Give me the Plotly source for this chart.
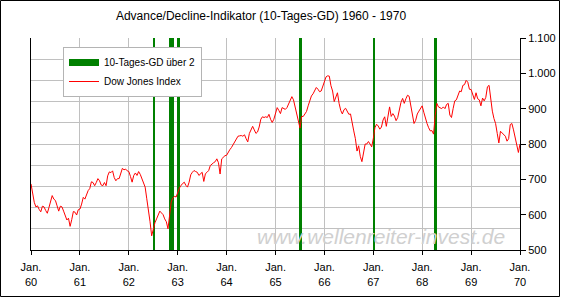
import pandas as pd
import plotly.graph_objects as go

# ---------------- data ----------------
dow_1960 = [687, 660, 635, 622, 625, 615, 608, 624, 622, 612, 604, 620, 640, 654, 644,
            640, 625, 610, 624, 622, 610, 600, 585, 590, 567, 586, 609, 607, 599, 614]
dow_1961 = [616, 630, 649, 644, 658, 668, 674, 693, 691, 682, 691, 702, 696, 684, 682,
            691, 682, 710, 721, 719, 724, 705, 696, 702, 702, 715, 731, 727, 729, 724]
dow_1962 = [722, 708, 692, 711, 718, 711, 722, 714, 700, 690, 678, 645, 603, 580, 540,
            561, 577, 588, 600, 610, 605, 600, 588, 580, 560, 605, 636, 647, 652, 650]
dow_1963 = [664, 675, 683, 687, 692, 683, 678, 692, 713, 720, 725, 722, 720, 711, 716,
            720, 694, 716, 720, 725, 739, 744, 747, 750, 758, 747, 715, 758, 762, 767]
dow_1964 = [768, 778, 784, 790, 798, 805, 815, 822, 823, 824, 822, 826, 815, 806, 830,
            842, 850, 840, 830, 834, 848, 870, 877, 875, 877, 875, 884, 870, 861, 870]
dow_1965 = [884, 903, 895, 886, 903, 901, 898, 903, 915, 925, 934, 925, 905, 882, 870,
            845, 878, 878, 885, 892, 908, 925, 936, 942, 952, 960, 955, 948, 950, 965]
dow_1966 = [978, 990, 993, 992, 965, 950, 920, 936, 945, 915, 895, 885, 897, 901, 893,
            884, 885, 865, 837, 815, 780, 795, 765, 750, 780, 800, 800, 807, 800, 792]
dow_1967 = [815, 846, 856, 851, 842, 848, 868, 877, 850, 885, 905, 878, 886, 879, 866,
            875, 900, 918, 929, 915, 928, 938, 935, 905, 880, 858, 867, 885, 893, 903]
dow_1968 = [908, 890, 870, 858, 846, 837, 838, 828, 880, 915, 905, 903, 900, 905, 900,
            912, 915, 882, 875, 900, 922, 925, 940, 950, 948, 966, 968, 980, 975, 955]
dow_1969 = [954, 936, 926, 945, 928, 925, 908, 930, 922, 932, 962, 966, 925, 893, 872,
            858, 830, 803, 836, 832, 828, 822, 808, 815, 855, 858, 840, 815, 795, 776]
dow_1970 = [800]

signal_start = ["1962-06-28", "1962-10-28", "1962-12-27", "1965-06-24", "1966-12-31", "1968-04-01"]
signal_end = ["1962-07-15", "1962-12-03", "1963-01-15", "1965-07-15", "1967-01-15", "1968-04-18"]
signal_on = [1, 1, 1, 1, 1, 1]

years = list(range(1960, 1971))
x_tick_labels = ["Jan.<br>60", "Jan.<br>61", "Jan.<br>62", "Jan.<br>63", "Jan.<br>64", "Jan.<br>65",
                 "Jan.<br>66", "Jan.<br>67", "Jan.<br>68", "Jan.<br>69", "Jan.<br>70"]
y_tick_values = [500, 600, 700, 800, 900, 1000, 1100]
y_tick_labels = ["500", "600", "700", "800", "900", "1.000", "1.100"]

title_text = "Advance/Decline-Indikator (10-Tages-GD) 1960 - 1970"
watermark = "www.wellenreiter-invest.de"

# ---------------- build series ----------------
yearly = [dow_1960, dow_1961, dow_1962, dow_1963, dow_1964, dow_1965,
          dow_1966, dow_1967, dow_1968, dow_1969, dow_1970]
dow_dates, dow_values = [], []
for yr, vals in zip(years, yearly):
    start = pd.Timestamp(f"{yr}-01-01")
    n = len(vals)
    for i, v in enumerate(vals):
        dow_dates.append(start + pd.Timedelta(days=365.25 * i / max(n, 1)))
        dow_values.append(v)

s_start = pd.to_datetime(signal_start)
s_end = pd.to_datetime(signal_end)
sig_mid = s_start + (s_end - s_start) / 2
sig_width = [(e - s).total_seconds() * 1000 for s, e in zip(s_start, s_end)]

FONT = "Liberation Sans, Arial, sans-serif"
GREEN = "#008000"
RED = "#ff0000"
GRID = "#c0c0c0"

fig = go.Figure()
fig.add_trace(go.Bar(x=sig_mid, y=signal_on, width=sig_width, base=0,
                     marker=dict(color=GREEN, line=dict(width=0)),
                     showlegend=False, yaxis="y", hoverinfo="skip"))
fig.add_trace(go.Scatter(x=[None], y=[None], mode="lines", name="10-Tages-GD über 2",
                         line=dict(color=GREEN, width=7), yaxis="y"))
fig.add_trace(go.Scatter(x=dow_dates, y=dow_values, mode="lines", name="Dow Jones Index",
                         line=dict(color=RED, width=1), yaxis="y2"))

fig.update_layout(
    width=562, height=298,
    margin=dict(l=31, r=42, t=38, b=48, autoexpand=False),
    paper_bgcolor="white", plot_bgcolor="white",
    font=dict(family=FONT, size=11, color="black"),
    title=dict(text=title_text, x=261 / 562, xanchor="center", y=1 - 16 / 298,
               yanchor="middle", font=dict(family=FONT, size=12, color="black")),
    bargap=0,
    showlegend=True,
    legend=dict(x=(63 - 31) / 489, y=1 - (47 - 38) / 212, xanchor="left", yanchor="top",
                bgcolor="white", bordercolor="#b4b4b4", borderwidth=1, itemwidth=30,
                font=dict(family=FONT, size=10, color="black"), tracegroupgap=0),
    xaxis=dict(type="date", range=["1960-01-01", "1970-01-01"], automargin=False,
               tickvals=[f"{y}-01-01" for y in years], ticktext=x_tick_labels,
               ticks="outside", ticklen=4, tickcolor="black", showline=True,
               linecolor="black", linewidth=1, showgrid=True, gridcolor=GRID,
               gridwidth=1, zeroline=False, ticklabelstandoff=3,
               tickfont=dict(size=11, family=FONT)),
    yaxis=dict(range=[0, 1], tickvals=[i / 10 for i in range(11)], showticklabels=False,
               ticks="", showgrid=True, gridcolor=GRID, gridwidth=1, zeroline=False,
               automargin=False,
               showline=True, linecolor="black", linewidth=1, side="left", fixedrange=True),
    yaxis2=dict(overlaying="y", side="right", range=[500, 1100], tickvals=y_tick_values,
                ticktext=y_tick_labels, ticks="outside", ticklen=5, tickcolor="black",
                showline=True, linecolor="black", linewidth=1, showgrid=False,
                automargin=False,
                zeroline=False, tickfont=dict(size=11, family=FONT)),
    annotations=[dict(text="<i>" + watermark + "</i>", xref="paper", yref="paper",
                      x=(381 - 31) / 489, y=(250 - 236) / 212, xanchor="center",
                      yanchor="middle", showarrow=False,
                      font=dict(family=FONT, size=21, color="#d0d0d0"))],
    shapes=[dict(type="rect", xref="paper", yref="paper", layer="above",
                 x0=(0.5 - 31) / 489, x1=(559.5 - 31) / 489,
                 y0=(250 - 296.5) / 212, y1=(250 - 0.5) / 212,
                 line=dict(color="black", width=1), fillcolor="rgba(0,0,0,0)")],
)

fig.write_html("out.html")
